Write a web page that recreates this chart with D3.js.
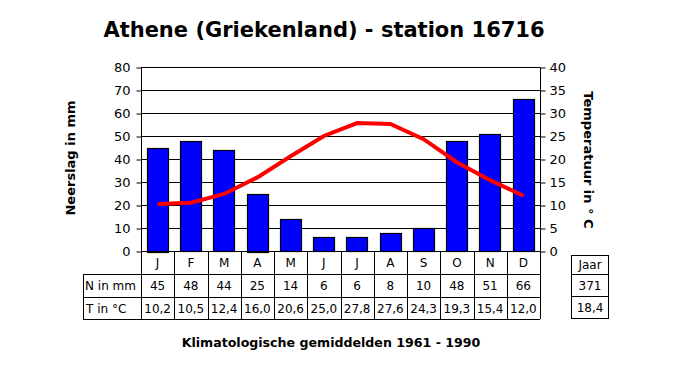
<!DOCTYPE html>
<html>
<head>
<meta charset="utf-8">
<script src="https://cdn.jsdelivr.net/npm/d3@7"></script>
<style>
  body { margin: 0; background: #fff; }
  text { font-family: Verdana, "DejaVu Sans", sans-serif; fill: #000; }
</style>
</head>
<body>
<div id="chart"></div>
<script>
// chart data
var months = ["J", "F", "M", "A", "M", "J", "J", "A", "S", "O", "N", "D"];
var rain = [45, 48, 44, 25, 14, 6, 6, 8, 10, 48, 51, 66];
var temp = [10.2, 10.5, 12.4, 16.0, 20.6, 25.0, 27.8, 27.6, 24.3, 19.3, 15.4, 12.0];
var rainTicks = [0, 10, 20, 30, 40, 50, 60, 70, 80];
var tempTicks = [0, 5, 10, 15, 20, 25, 30, 35, 40];
var yearRain = "371";
var yearTemp = "18,4";

var width = 675;
var height = 375;
var plotLeft = 141, plotRight = 540, plotTop = 67, plotBottom = 251;

var svg = d3.select("#chart")
    .append("svg")
    .attr("width", width)
    .attr("height", height);

var x = d3.scaleBand()
    .domain(d3.range(12))
    .range([plotLeft, plotRight])
    .paddingInner(0.36)
    .paddingOuter(0.18);

var yRain = d3.scaleLinear().domain([0, 80]).range([plotBottom, plotTop]);
var yTemp = d3.scaleLinear().domain([0, 40]).range([plotBottom, plotTop]);

// title
svg.append("text")
    .attr("x", 324)
    .attr("y", 37)
    .attr("text-anchor", "middle")
    .style("font-size", "21px")
    .style("font-weight", "bold")
    .text("Athene (Griekenland) - station 16716");

// grid lines
svg.append("g")
    .selectAll("line")
    .data(rainTicks.slice(1))
    .enter()
    .append("line")
    .attr("x1", plotLeft)
    .attr("x2", plotRight)
    .attr("y1", function(d) { return Math.round(yRain(d)) + 0.5; })
    .attr("y2", function(d) { return Math.round(yRain(d)) + 0.5; })
    .attr("stroke", "#000")
    .attr("stroke-width", 1.2);

// left axis
var leftAxis = d3.axisLeft(yRain).tickValues(rainTicks).tickSize(5).tickPadding(6);
var gl = svg.append("g")
    .attr("transform", "translate(" + (plotLeft + 0.5) + ",0.5)")
    .call(leftAxis);
gl.select(".domain").remove();
gl.append("line").attr("y1", plotTop).attr("y2", plotBottom).attr("stroke", "#000");

// right axis
var rightAxis = d3.axisRight(yTemp).tickValues(tempTicks).tickSize(5).tickPadding(4);
var gr = svg.append("g")
    .attr("transform", "translate(" + (plotRight + 0.5) + ",0.5)")
    .call(rightAxis);
gr.select(".domain").remove();
gr.append("line").attr("y1", plotTop).attr("y2", plotBottom).attr("stroke", "#000");

svg.selectAll(".tick text")
    .style("font-size", "13px")
    .style("font-family", "Verdana, 'DejaVu Sans', sans-serif");
svg.selectAll(".tick line").attr("stroke", "#000");

// bars
svg.append("g")
    .selectAll("rect")
    .data(rain)
    .enter()
    .append("rect")
    .attr("x", function(d, i) { return Math.round(x(i)) + 0.5; })
    .attr("y", function(d) { return Math.round(yRain(d)) + 0.5; })
    .attr("width", Math.round(x.bandwidth()))
    .attr("height", function(d) { return Math.round(plotBottom - yRain(d)); })
    .attr("fill", "#0000ff")
    .attr("stroke", "#000")
    .attr("stroke-width", 1.2);

// temperature line
var line = d3.line()
    .x(function(d, i) { return x(i) + x.bandwidth() / 2; })
    .y(function(d) { return yTemp(d); });

svg.append("path")
    .datum(temp)
    .attr("d", line)
    .attr("fill", "none")
    .attr("stroke", "#ff0000")
    .attr("stroke-width", 4);

// axis titles
svg.append("text")
    .attr("transform", "translate(75,158) rotate(-90)")
    .attr("text-anchor", "middle")
    .style("font-size", "13px")
    .style("font-weight", "bold")
    .text("Neerslag in mm");

svg.append("text")
    .attr("transform", "translate(584,160) rotate(90)")
    .attr("text-anchor", "middle")
    .style("font-size", "13px")
    .style("font-weight", "bold")
    .text("Temperatuur in ° C");

// table
var colW = (plotRight - plotLeft) / 12;
var rows = [251, 274, 297, 319];
var table = svg.append("g").attr("stroke", "#000").attr("stroke-width", 1);

// horizontal lines
table.append("line").attr("x1", plotLeft).attr("x2", plotRight).attr("y1", rows[0] + 0.5).attr("y2", rows[0] + 0.5);
[1, 2, 3].forEach(function(r) {
    table.append("line")
        .attr("x1", 83).attr("x2", plotRight)
        .attr("y1", rows[r] + 0.5).attr("y2", rows[r] + 0.5);
});
// vertical lines
d3.range(13).forEach(function(i) {
    var xx = Math.round(plotLeft + i * colW) + 0.5;
    table.append("line").attr("x1", xx).attr("x2", xx).attr("y1", rows[0]).attr("y2", rows[3]);
});
table.append("line").attr("x1", 83.5).attr("x2", 83.5).attr("y1", rows[1]).attr("y2", rows[3]);

var cellText = function(values, r) {
    svg.append("g")
        .selectAll("text")
        .data(values)
        .enter()
        .append("text")
        .attr("x", function(d, i) { return plotLeft + (i + 0.5) * colW; })
        .attr("y", (rows[r] + rows[r + 1]) / 2 + 4.5)
        .attr("text-anchor", "middle")
        .style("font-size", "12px")
        .text(function(d) { return d; });
};
cellText(months, 0);
cellText(rain, 1);
cellText(temp.map(function(d) { return d.toFixed(1).replace(".", ","); }), 2);

svg.append("text").attr("x", 85).attr("y", (rows[1] + rows[2]) / 2 + 4.5)
    .style("font-size", "12px").text("N in mm");
svg.append("text").attr("x", 86).attr("y", (rows[2] + rows[3]) / 2 + 4.5)
    .style("font-size", "12px").text("T in °C");

// year box
var jr = [255, 274, 296, 318];
var jx0 = 571, jx1 = 608;
var jaar = svg.append("g").attr("stroke", "#000").attr("stroke-width", 1);
jaar.append("rect").attr("x", jx0 + 0.5).attr("y", jr[0] + 0.5)
    .attr("width", jx1 - jx0).attr("height", jr[3] - jr[0]).attr("fill", "none");
[1, 2].forEach(function(r) {
    jaar.append("line").attr("x1", jx0).attr("x2", jx1)
        .attr("y1", jr[r] + 0.5).attr("y2", jr[r] + 0.5);
});
["Jaar", yearRain, yearTemp].forEach(function(t, r) {
    svg.append("text")
        .attr("x", (jx0 + jx1) / 2 + 0.5)
        .attr("y", (jr[r] + jr[r + 1]) / 2 + 4.5)
        .attr("text-anchor", "middle")
        .style("font-size", "12px")
        .text(t);
});

// footer
svg.append("text")
    .attr("x", 331)
    .attr("y", 347)
    .attr("text-anchor", "middle")
    .style("font-size", "12.6px")
    .style("font-weight", "bold")
    .text("Klimatologische gemiddelden 1961 - 1990");
</script>
</body>
</html>
